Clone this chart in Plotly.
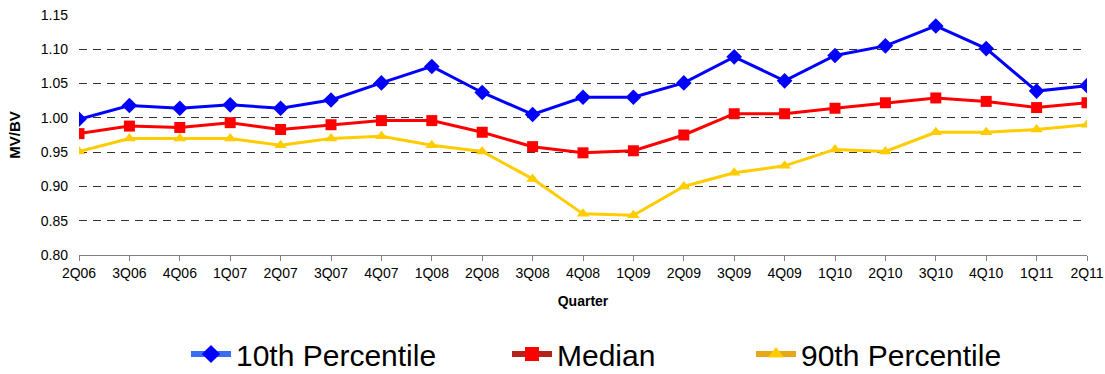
import plotly.graph_objects as go

quarters = ["2Q06","3Q06","4Q06","1Q07","2Q07","3Q07","4Q07","1Q08","2Q08","3Q08","4Q08",
            "1Q09","2Q09","3Q09","4Q09","1Q10","2Q10","3Q10","4Q10","1Q11","2Q11"]
p10 = [0.998,1.018,1.014,1.019,1.014,1.026,1.051,1.075,1.037,1.005,1.030,
       1.030,1.051,1.089,1.054,1.091,1.105,1.134,1.101,1.039,1.047]
median = [0.977,0.988,0.986,0.993,0.983,0.990,0.996,0.996,0.979,0.958,0.949,
          0.952,0.975,1.006,1.006,1.014,1.022,1.029,1.024,1.015,1.022]
p90 = [0.951,0.970,0.970,0.970,0.960,0.970,0.973,0.960,0.951,0.911,0.860,
       0.858,0.900,0.920,0.930,0.954,0.951,0.979,0.979,0.983,0.990]
y_ticks = [0.80,0.85,0.90,0.95,1.00,1.05,1.10,1.15]

L, R, T, B = 79, 18, 15, 119
W, H = 1105, 374
pw = W - L - R
ph = H - T - B

fig = go.Figure()
series = [("10th Percentile", p10, "#0000FF", "#3B6CF5", "diamond", 12, "legend", 235),
          ("Median", median, "#FF0000", "#B5221C", "square", 11, "legend2", 556),
          ("90th Percentile", p90, "#FFCC00", "#E6A817", "triangle-up", 11, "legend3", 800)]
for name, vals, col, lcol, sym, ms, leg, tx in series:
    fig.add_trace(go.Scatter(x=list(range(len(quarters))), y=vals, name=name, mode="lines+markers",
                             line=dict(color=col, width=3), showlegend=False,
                             marker=dict(symbol=sym, size=ms, color=col)))
    fig.add_trace(go.Scatter(x=[None], y=[None], name=name, mode="lines+markers", legend=leg,
                             line=dict(color=lcol, width=6),
                             marker=dict(symbol=sym, size=14, color=col)))

legend_common = dict(orientation="h", yanchor="middle", y=-(354 - (T + ph)) / ph,
                     xanchor="left", font=dict(size=30, family="Liberation Sans, Arial"),
                     bgcolor="rgba(0,0,0,0)", itemwidth=40)
legs = {}
for name, vals, col, lcol, sym, ms, leg, tx in series:
    legs[leg] = dict(legend_common, x=(tx - 49 - L) / pw)

fig.update_layout(
    width=W, height=H,
    margin=dict(l=L, r=R, t=T, b=B, autoexpand=False),
    paper_bgcolor="white", plot_bgcolor="white",
    font=dict(family="Liberation Sans, Arial", color="black"),
    xaxis=dict(tickmode="array", tickvals=list(range(len(quarters))), ticktext=quarters,
               range=[0, len(quarters)-1], showgrid=False, zeroline=False,
               showline=True, linecolor="#808080", linewidth=1,
               ticks="outside", ticklen=5, tickcolor="#808080",
               tickfont=dict(size=14), ticklabeloverflow="allow", automargin=False,
               title=dict(text="<b>Quarter</b>", font=dict(size=14), standoff=16)),
    yaxis=dict(range=[0.80, 1.15], tickvals=y_ticks, tickformat=".2f",
               showgrid=True, gridcolor="#333333", griddash="8px,6px", gridwidth=1,
               zeroline=False, showline=False, tickfont=dict(size=14), ticklabelstandoff=10,
               automargin=False,
               title=dict(text="<b>MV/BV</b>", font=dict(size=15), standoff=16)),
    **legs,
)
fig.write_html("out.html")
